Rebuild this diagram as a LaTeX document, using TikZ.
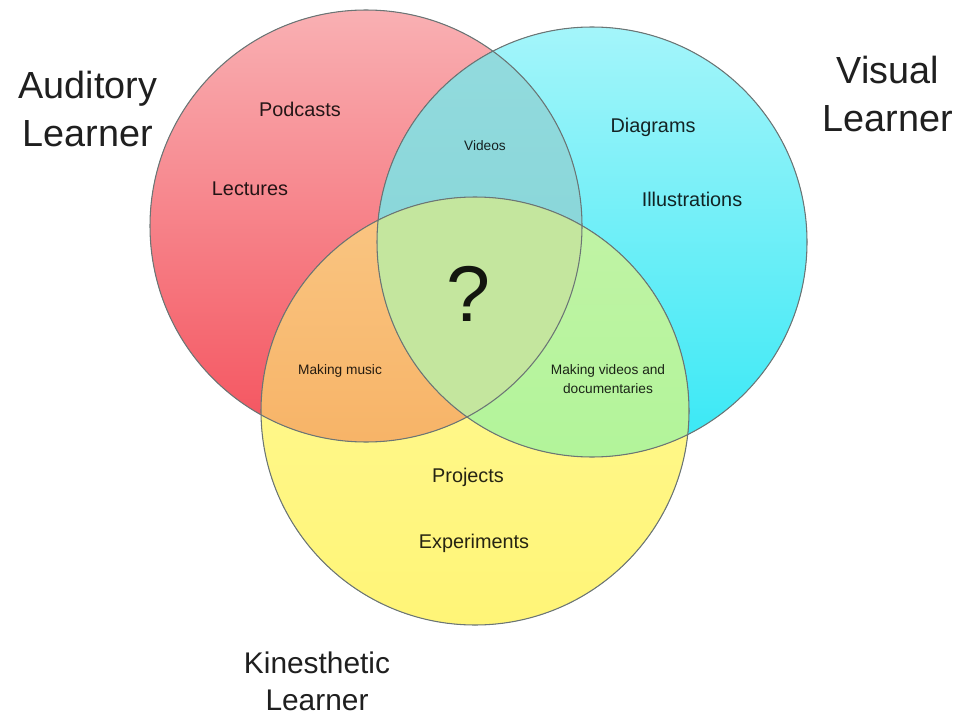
\documentclass[tikz,border=0pt]{standalone}
\usepackage{fontspec}
\setmainfont{Liberation Sans}

\definecolor{audtop}{HTML}{F9B0B3}
\definecolor{audbot}{HTML}{F4525D}
\definecolor{vistop}{HTML}{A4F5FA}
\definecolor{visbot}{HTML}{36E8F5}
\definecolor{kintop}{HTML}{FFF99A}
\definecolor{kinbot}{HTML}{FFF577}
\definecolor{avtop}{HTML}{93DBDE}
\definecolor{avbot}{HTML}{80D2D4}
\definecolor{aktop}{HTML}{FAC683}
\definecolor{akbot}{HTML}{F5A653}
\definecolor{vktop}{HTML}{C2F3A6}
\definecolor{vkbot}{HTML}{A8F592}
\definecolor{mid}{HTML}{C4E69E}
\definecolor{ringgray}{HTML}{6B7575}

\def\audcirc{(366,226) circle[radius=216]}
\def\viscirc{(592,242) circle[radius=215]}
\def\kincirc{(475,411) circle[radius=214]}

\begin{document}
\begin{tikzpicture}[x=0.02cm,y=-0.02cm,every text node part/.style={align=center},
	ring/.style={draw=ringgray,line width=0.6pt},
	title/.style={inner sep=0pt,text=black,text opacity=0.88,font=\fontsize{21.5}{27.8}\selectfont},
	item/.style={inner sep=0pt,anchor=base,text=black,text opacity=0.85,font=\fontsize{11.3}{13.5}\selectfont},
	tag/.style={inner sep=0pt,text=black,text opacity=0.85,font=\fontsize{7.8}{10.8}\selectfont}]
	\useasboundingbox (0,0) rectangle (959,716);
	% the three sets
	\fill[top color=audtop,bottom color=audbot] \audcirc;
	\fill[top color=vistop,bottom color=visbot] \viscirc;
	\fill[top color=kintop,bottom color=kinbot] \kincirc;
	% overlaps
	\begin{scope}
		\clip \audcirc;
		\fill[top color=avtop,bottom color=avbot] \viscirc;
	\end{scope}
	\begin{scope}
		\clip \audcirc;
		\fill[top color=aktop,bottom color=akbot] \kincirc;
	\end{scope}
	\begin{scope}
		\clip \viscirc;
		\fill[top color=vktop,bottom color=vkbot] \kincirc;
	\end{scope}
	\begin{scope}
		\clip \audcirc;
		\clip \viscirc;
		\fill[mid] \kincirc;
	\end{scope}
	\draw[ring] \audcirc;
	\draw[ring] \viscirc;
	\draw[ring] \kincirc;
	% labels
	\node[title] (audlbl) at (88,109) {Auditory\\Learner};
	\node[title] (vislbl) at (888,94) {Visual\\Learner};
	\node[title,font=\fontsize{17}{21}\selectfont] (kinlbl) at (317,681) {Kinesthetic\\Learner};
	\node[item] (podcasts) at (300,117) {Podcasts};
	\node[item] (lectures) at (250,195) {Lectures};
	\node[item] (diagrams) at (653,133) {Diagrams};
	\node[item] (illus) at (692,206) {Illustrations};
	\node[item] (projects) at (468,482) {Projects};
	\node[item] (experiments) at (474,548) {Experiments};
	\node[tag,anchor=base] (videos) at (485,151) {Videos};
	\node[tag,anchor=base] (music) at (340,374) {Making music};
	\node[tag] (docs) at (608,379) {Making videos and\\documentaries};
	\node[item,font=\fontsize{45}{50}\selectfont,text opacity=0.9] (quest) at (468,321) {?};
\end{tikzpicture}
\end{document}
